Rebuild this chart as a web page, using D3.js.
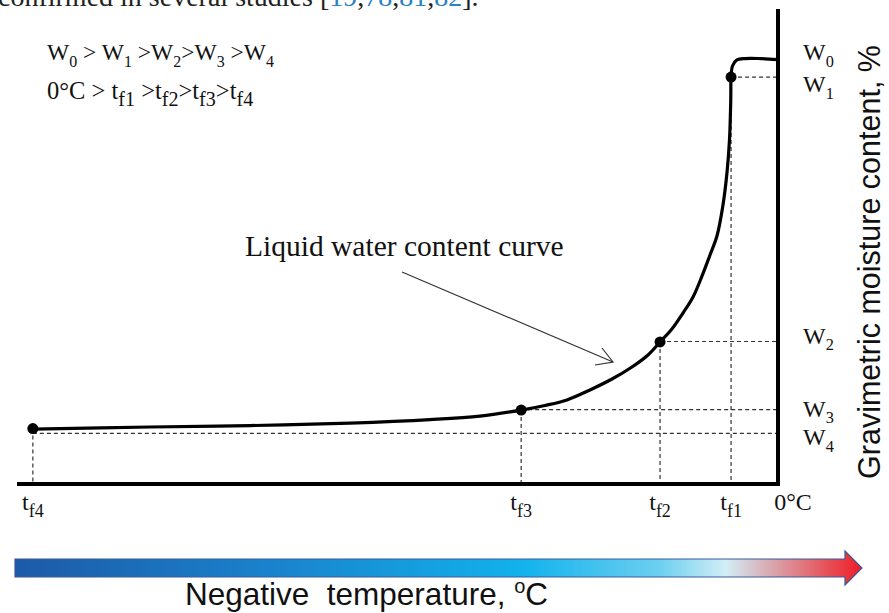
<!DOCTYPE html>
<html lang="en">

<head>
    <meta charset="UTF-8">
    <title>Liquid water content curve</title>
    <script src="https://d3js.org/d3.v7.min.js"></script>
    <style>
        body { margin: 0; background: #fff; }
        .serif { font-family: "Liberation Serif", "Times New Roman", serif; fill: #111; }
        .sans { font-family: "Liberation Sans", Arial, sans-serif; fill: #111; }
    </style>
</head>

<body>
    <svg width="889" height="613"></svg>

    <script>
        // liquid water content curve (temperature in arbitrary units, 0 = 0°C)
        const curveT = [-47.0, -39.6, -33.3, -27.0, -21.95, -18.8, -16.2, -14.7, -13.31, -11.86,
            -10.47, -9.21, -8.2, -7.44, -6.69, -5.99, -5.36, -4.79, -4.29, -3.85, -3.47, -3.22,
            -3.06, -2.98, -2.96, -2.87, -2.59, -2.08, -1.14, 0];
        const curveW = [3.47, 3.6, 3.69, 3.85, 4.07, 4.29, 4.67, 4.96, 5.31, 5.94,
            6.63, 7.39, 8.15, 8.97, 9.79, 10.8, 11.81, 13.14, 14.46, 15.66, 17.62, 19.64,
            21.73, 24.25, 25.7, 26.4, 26.78, 26.87, 26.87, 26.8];

        // characteristic points tf4..tf1
        const pointNames = ["f4", "f3", "f2", "f1"];
        const pointT = [-47.0, -16.2, -7.44, -2.96];
        const pointW = [3.5, 4.67, 8.97, 25.7];

        // moisture levels W0..W4
        const levelNames = ["0", "1", "2", "3", "4"];
        const levelW = [26.84, 25.7, 9.0, 4.7, 3.2];
        const levelNudge = [1, 15, 2, 7, 12];

        const svg = d3.select("svg");
        const x = d3.scaleLinear().domain([-48, 0]).range([17, 778]);
        const y = d3.scaleLinear().domain([0, 30]).range([484, 9]);

        // cut-off line of the article text above the figure
        const topLine = svg.append("text").attr("x", -2).attr("y", 6)
            .attr("font-family", "'Liberation Serif', serif").attr("font-size", 28).attr("fill", "#222");
        [["confirmed in several studies [", 0], ["19", 1], [",", 0], ["78", 1], [",", 0],
        ["81", 1], [",", 0], ["82", 1], ["].", 0]].forEach(function (s) {
            topLine.append("tspan").attr("fill", s[1] ? "#2a7fc9" : "#222").text(s[0]);
        });

        // text with subscripts: segments [text, isSub]
        function rich(g, px, py, segs, size, anchor, subScale) {
            const k = subScale || 0.68;
            const t = g.append("text").attr("class", "serif").attr("x", px).attr("y", py)
                .attr("font-size", size).attr("text-anchor", anchor || "start");
            let shift = 0;
            segs.forEach(function (s) {
                const want = s[1] ? size * 0.28 : 0;
                t.append("tspan")
                    .attr("dy", want - shift)
                    .attr("font-size", s[1] ? size * k : size)
                    .text(s[0]);
                shift = want;
            });
            return t;
        }

        // dashed guides
        const guides = svg.append("g").attr("stroke", "#333").attr("stroke-width", 1.2)
            .attr("stroke-dasharray", "4,3").attr("fill", "none");
        pointT.forEach(function (t, i) {
            guides.append("line").attr("x1", x(t)).attr("x2", x(t))
                .attr("y1", y(pointW[i])).attr("y2", y(0));
        });
        [1, 2, 3, 4].forEach(function (k) {
            const from = pointT[4 - k];
            guides.append("line").attr("x1", x(from)).attr("x2", x(0))
                .attr("y1", y(levelW[k])).attr("y2", y(levelW[k]));
        });

        // axes
        svg.append("line").attr("x1", x(0)).attr("x2", x(0)).attr("y1", y(30)).attr("y2", y(0) + 2)
            .attr("stroke", "#000").attr("stroke-width", 4);
        svg.append("line").attr("x1", x(-48)).attr("x2", x(0)).attr("y1", y(0)).attr("y2", y(0))
            .attr("stroke", "#000").attr("stroke-width", 4);

        // curve
        const line = d3.line().x(function (d) { return x(d[0]); }).y(function (d) { return y(d[1]); })
            .curve(d3.curveCatmullRom.alpha(0.5));
        svg.append("path").datum(d3.zip(curveT, curveW)).attr("d", line)
            .attr("fill", "none").attr("stroke", "#000").attr("stroke-width", 3.2)
            .attr("stroke-linejoin", "round");

        svg.selectAll("circle.pt").data(d3.zip(pointT, pointW)).join("circle").attr("class", "pt")
            .attr("cx", function (d) { return x(d[0]); }).attr("cy", function (d) { return y(d[1]); })
            .attr("r", 5.5).attr("fill", "#000");

        // W labels on the right
        levelW.forEach(function (w, i) {
            rich(svg, 803, y(w) + levelNudge[i], [["W", 0], [levelNames[i], 1]], 24);
        });

        // t labels below the axis
        pointT.forEach(function (t, i) {
            rich(svg, x(t), 510, [["t", 0], [pointNames[i], 1]], 24, "middle", 0.75);
        });
        rich(svg, x(0) + 15, 510, [["0°C", 0]], 24, "middle");

        // legend text top-left
        rich(svg, 47, 60, [["W", 0], ["0", 1], [" > W", 0], ["1", 1], [" >W", 0], ["2", 1],
        [">W", 0], ["3", 1], [" >W", 0], ["4", 1]], 23.5);
        rich(svg, 47, 99, [["0°C > t", 0], ["f1", 1], [" >t", 0], ["f2", 1], [">t", 0], ["f3", 1],
        [">t", 0], ["f4", 1]], 24.5, "start", 0.82);

        // annotation
        svg.append("text").attr("class", "serif").attr("x", 245).attr("y", 256)
            .attr("font-size", 29.5).text("Liquid water content curve");
        const ann = svg.append("g").attr("stroke", "#333").attr("stroke-width", 1.2).attr("fill", "none");
        ann.append("line").attr("x1", 402).attr("y1", 272).attr("x2", 613).attr("y2", 362);
        ann.append("polyline").attr("points", "595,365 613,362 602,348");

        // temperature arrow with gradient
        const grad = svg.append("defs").append("linearGradient").attr("id", "tgrad")
            .attr("x1", "0%").attr("x2", "100%");
        [[0, "#1d5aa8"], [0.3, "#1a82cc"], [0.6, "#12b2ec"], [0.76, "#6ccff0"],
        [0.84, "#d2eef6"], [0.89, "#d8aab2"], [1, "#ef1c24"]].forEach(function (s) {
            grad.append("stop").attr("offset", s[0]).attr("stop-color", s[1]);
        });
        svg.append("path")
            .attr("d", "M15,559 L845,559 L845,551 L862,568 L845,585 L845,577 L15,577 Z")
            .attr("fill", "url(#tgrad)").attr("stroke", "#3a5a9a").attr("stroke-width", 1.2);

        // axis titles
        const xt = svg.append("text").attr("class", "sans").attr("x", 185).attr("y", 605)
            .attr("font-size", 31.5);
        xt.append("tspan").text("Negative\u00a0\u00a0temperature, ");
        xt.append("tspan").attr("font-size", 20).attr("dy", -12).text("o");
        xt.append("tspan").attr("dy", 12).text("C");

        svg.append("text").attr("class", "sans").attr("font-size", 30.5)
            .attr("text-anchor", "middle")
            .attr("transform", "translate(880,262) rotate(-90)")
            .text("Gravimetric moisture content, %");
    </script>
</body>

</html>
